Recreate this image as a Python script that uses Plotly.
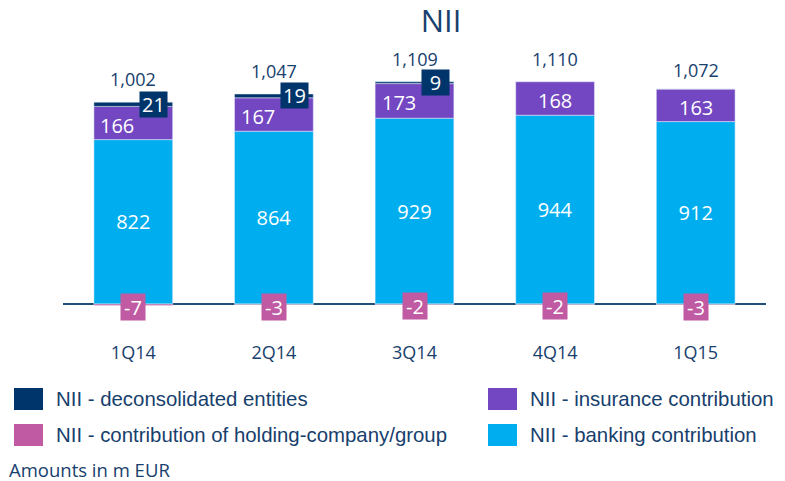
import plotly.graph_objects as go

quarters = ["1Q14", "2Q14", "3Q14", "4Q14", "1Q15"]
banking = [822, 864, 929, 944, 912]
insurance = [166, 167, 173, 168, 163]
deconsolidated = [21, 19, 9, 0, 0]
holding = [-7, -3, -2, -2, -3]
totals = [1002, 1047, 1109, 1110, 1072]

names = {
    "decon": "NII - deconsolidated entities",
    "ins": "NII - insurance contribution",
    "hold": "NII - contribution of holding-company/group",
    "bank": "NII - banking contribution",
}
colors = {
    "decon": "#00356B",
    "ins": "#7447C2",
    "hold": "#C05AA2",
    "bank": "#00AEEF",
}
TEXT = "#17406D"
NUMFONT = "Open Sans"

# page body margin is removed below, so the figure fills the window
OFF = 0
W, H = 785 - OFF, 481 - OFF
ML, MT = 63 - OFF, 64 - OFF
PLOT_W, PLOT_H = 703, 270
MR = W - ML - PLOT_W
MB = H - MT - PLOT_H
YR = [-150, 1200]


def px_x(p):
    # p is a window pixel x
    return (p - OFF - ML) / PLOT_W


def px_y(p):
    return (MT + PLOT_H - (p - OFF)) / PLOT_H


fig = go.Figure()
fig.add_trace(go.Bar(x=quarters, y=banking, name=names["bank"], marker_color=colors["bank"],
                     text=[str(v) for v in banking], textposition="inside", insidetextanchor="middle",
                     textfont=dict(family=NUMFONT, size=20, color="white"), cliponaxis=False))
fig.add_trace(go.Bar(x=quarters, y=insurance, name=names["ins"], marker_color=colors["ins"],
                     textposition="none", cliponaxis=False))
fig.add_trace(go.Bar(x=quarters, y=deconsolidated, name=names["decon"], marker_color=colors["decon"],
                     textposition="none", cliponaxis=False))
fig.add_trace(go.Bar(x=quarters, y=holding, name=names["hold"], marker_color=colors["hold"],
                     textposition="none", cliponaxis=False))

annotations = []
for i, q in enumerate(quarters):
    pos_top = banking[i] + insurance[i] + deconsolidated[i]
    # totals
    annotations.append(dict(x=q, y=pos_top, text=f"{totals[i]:,}", showarrow=False,
                            yanchor="bottom", yshift=9 if i < 4 else 5,
                            font=dict(family=NUMFONT, size=18, color=TEXT)))
    # insurance label
    annotations.append(dict(x=q, y=banking[i] + insurance[i] / 2, text=str(insurance[i]), showarrow=False,
                            xshift=-16 if deconsolidated[i] else 0, yshift=-2,
                            font=dict(family=NUMFONT, size=20, color="white")))
    # deconsolidated label box
    if deconsolidated[i]:
        annotations.append(dict(x=q, y=banking[i] + insurance[i] + deconsolidated[i] / 2,
                                text=str(deconsolidated[i]), showarrow=False,
                                xanchor="right", xshift=35, width=27, height=25,
                                bgcolor=colors["decon"], borderpad=0,
                                font=dict(family=NUMFONT, size=20, color="white")))
    # holding label box
    annotations.append(dict(x=q, y=holding[i], text=str(holding[i]), showarrow=False,
                            yshift=-2, width=24, height=26, bgcolor=colors["hold"], borderpad=0,
                            font=dict(family=NUMFONT, size=20, color="white")))

# custom legend (window pixel positions)
legend_items = [("decon", 14, 399), ("ins", 488, 399), ("hold", 14, 435), ("bank", 488, 435)]
shapes = []
for key, lx, ly in legend_items:
    shapes.append(dict(type="rect", xref="paper", yref="paper",
                       x0=px_x(lx), x1=px_x(lx + 29), y0=px_y(ly + 11), y1=px_y(ly - 11),
                       fillcolor=colors[key], line=dict(width=0)))
    annotations.append(dict(xref="paper", yref="paper", x=px_x(lx + 40), y=px_y(ly),
                            xanchor="left", yanchor="middle", showarrow=False, text=names[key],
                            font=dict(family="Liberation Sans", size=20.4, color=TEXT)))

annotations.append(dict(xref="paper", yref="paper", x=px_x(7), y=px_y(469), xanchor="left",
                        yanchor="middle", showarrow=False, text="Amounts in m EUR",
                        font=dict(family=NUMFONT, size=18.5, color=TEXT)))

fig.update_layout(
    width=W, height=H,
    margin=dict(l=ML, r=MR, t=MT, b=MB),
    barmode="relative", bargap=0.44,
    plot_bgcolor="white", paper_bgcolor="white",
    showlegend=False,
    title=dict(text="NII", x=(441 - OFF) / W, xanchor="center", y=1 - (21 - OFF) / H, yanchor="middle",
               font=dict(family=NUMFONT, size=31, color=TEXT)),
    xaxis=dict(showgrid=False, showline=False, ticks="", ticklabelstandoff=6,
               tickfont=dict(family=NUMFONT, size=18, color=TEXT)),
    yaxis=dict(range=YR, visible=True, showgrid=False, showticklabels=False, ticks="",
               zeroline=True, zerolinecolor="#1F4E79", zerolinewidth=2),
    annotations=annotations,
    shapes=shapes,
)

fig.write_html("out.html",
               config={"displayModeBar": False},
               post_script="document.body.style.margin='0';document.body.style.overflow='hidden';")
